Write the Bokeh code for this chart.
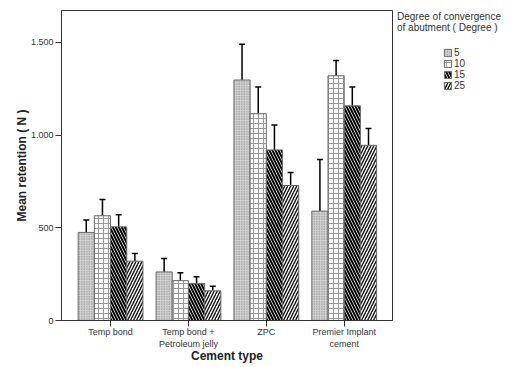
from bokeh.plotting import figure
from bokeh.layouts import row
from bokeh.models import (ColumnDataSource, Range1d, FixedTicker, Whisker, TeeHead,
                          Legend, LegendItem)
from bokeh.embed import file_html
from bokeh.resources import INLINE

categories = ["Temp bond", "Temp bond +\nPetroleum jelly", "ZPC", "Premier Implant\ncement"]
degrees = ["5", "10", "15", "25"]
mean_5 = [475, 262, 1297, 590]
mean_10 = [565, 215, 1115, 1320]
mean_15 = [505, 200, 920, 1158]
mean_25 = [320, 160, 728, 945]
upper_5 = [542, 335, 1490, 868]
upper_10 = [652, 257, 1260, 1402]
upper_15 = [570, 236, 1055, 1260]
upper_25 = [362, 185, 798, 1035]
lower_5 = [410, 192, 1110, 315]
lower_10 = [480, 175, 975, 1235]
lower_15 = [440, 165, 785, 1058]
lower_25 = [280, 138, 655, 858]
y_ticks = [0, 500, 1000, 1500]
y_tick_labels = ["0", "500", "1.000", "1.500"]
legend_title = ["Degree of convergence", "of abutment ( Degree )"]

means = [mean_5, mean_10, mean_15, mean_25]
uppers = [upper_5, upper_10, upper_15, upper_25]
lowers = [lower_5, lower_10, lower_15, lower_25]

styles = [
    dict(fill_color="#d2d2d2", hatch_pattern="dot", hatch_color="#7a7a7a", hatch_scale=2.5, hatch_weight=1),
    dict(fill_color="white", hatch_pattern="cross", hatch_color="#9a9a9a", hatch_scale=5, hatch_weight=1.2),
    dict(fill_color="white", hatch_pattern="left_diagonal_line", hatch_color="black", hatch_scale=6, hatch_weight=2),
    dict(fill_color="white", hatch_pattern="right_diagonal_line", hatch_color="#111111", hatch_scale=6, hatch_weight=1.4),
]

# ---------------- main chart ----------------
p = figure(width=393, height=364, output_backend="svg", toolbar_location=None,
           x_range=Range1d(-0.63, 3.62), y_range=Range1d(0, 1672),
           min_border_left=61, min_border_top=10, min_border_right=1, min_border_bottom=44)
p.frame_width = 331
p.frame_height = 310

# ---------------- legend panel ----------------
q = figure(width=118, height=364, output_backend="svg", toolbar_location=None, title=None,
           x_axis_type=None, y_axis_type=None, min_border=0,
           x_range=Range1d(0, 1), y_range=Range1d(5000, 6000))
q.xgrid.visible = False
q.ygrid.visible = False
q.outline_line_color = None

bw = 0.208
offsets = [-1.5 * bw, -0.5 * bw, 0.5 * bw, 1.5 * bw]
items = []
for i, d in enumerate(degrees):
    xs = [k + offsets[i] for k in range(len(categories))]
    src = ColumnDataSource(dict(x=xs, top=means[i], upper=uppers[i], lower=lowers[i]))
    p.vbar(x="x", top="top", width=bw, source=src, line_color="#6a6a6a", line_width=1, **styles[i])
    w = Whisker(base="x", upper="upper", lower="lower", source=src, line_color="black", line_width=1.5,
                upper_head=TeeHead(size=6, line_color="black", line_width=1.5),
                lower_head=TeeHead(size=6, line_color="black", line_width=1.5))
    p.add_layout(w)
    # legend proxy (same data, hidden; only its legend swatch is shown)
    r = q.vbar(x="x", top="top", width=bw, source=src, line_color="#6a6a6a", line_width=1,
               visible=False, **styles[i])
    items.append(LegendItem(label=d, renderers=[r]))

p.xgrid.visible = False
p.ygrid.visible = False
p.outline_line_color = "#333333"
p.outline_line_width = 1

p.xaxis.ticker = FixedTicker(ticks=list(range(len(categories))))
p.xaxis.major_label_overrides = {i: c for i, c in enumerate(categories)}
p.yaxis.ticker = FixedTicker(ticks=y_ticks)
p.yaxis.major_label_overrides = {t: l for t, l in zip(y_ticks, y_tick_labels)}
for ax in (p.xaxis, p.yaxis):
    ax.axis_line_color = "#333333"
    ax.major_tick_line_color = "#333333"
    ax.major_tick_out = 6
    ax.major_tick_in = 0
    ax.minor_tick_line_color = None
    ax.major_label_text_font = "Liberation Sans"
    ax.major_label_text_font_size = "9px"
    ax.major_label_text_color = "#333333"
    ax.axis_label_text_font = "Liberation Sans"
    ax.axis_label_text_font_size = "12px"
    ax.axis_label_text_font_style = "bold"
    ax.axis_label_text_color = "#222222"
p.yaxis.axis_label = "Mean retention ( N )"
p.xaxis.axis_label = "Cement type"
p.yaxis.major_label_standoff = 2
p.xaxis.major_label_standoff = 0
p.yaxis.axis_label_standoff = -1
p.xaxis.axis_label_standoff = -3

title_legend = Legend(items=[LegendItem(label=t, renderers=[]) for t in legend_title],
                      location=(4, 286), glyph_width=0, glyph_height=11, label_height=11,
                      spacing=0, padding=0, margin=0, label_standoff=0,
                      label_text_font="Liberation Sans", label_text_font_size="10px",
                      label_text_color="#333333", border_line_alpha=0, background_fill_alpha=0)
legend = Legend(items=items, location=(50, 228), glyph_width=9, glyph_height=9, label_height=9,
                spacing=0, padding=0, margin=0, label_standoff=2,
                label_text_font="Liberation Sans", label_text_font_size="10px", label_text_color="#333333",
                inactive_fill_alpha=0,
                border_line_alpha=0, background_fill_alpha=0)
q.add_layout(title_legend, "center")
q.add_layout(legend, "center")

open("out.html", "w").write(file_html(row(p, q), INLINE))
